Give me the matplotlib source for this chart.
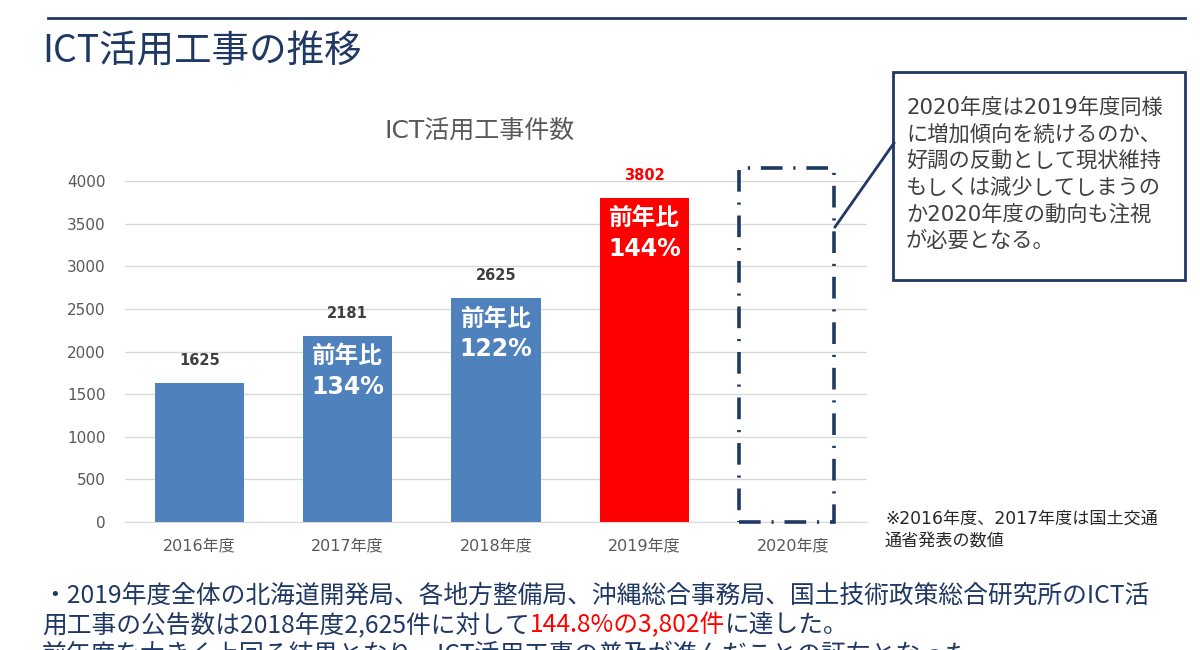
import matplotlib.pyplot as plt
from matplotlib.lines import Line2D
from matplotlib.patches import Rectangle

# wide latin (like Meiryo) + CJK fallback
WIDE = ["DejaVu Sans", "Noto Sans CJK JP"]
NARROW = ["Noto Sans CJK JP", "DejaVu Sans"]
plt.rcParams["font.family"] = WIDE

# data
years = ["2016年度", "2017年度", "2018年度", "2019年度", "2020年度"]
counts = [1625, 2181, 2625, 3802]
ratios = [None, "134%", "122%", "144%"]
outlook_2020 = 4150  # dashed placeholder height
yticks = [0, 500, 1000, 1500, 2000, 2500, 3000, 3500, 4000]

callout = ["2020年度は2019年度同様",
           "に増加傾向を続けるのか、",
           "好調の反動として現状維持",
           "もしくは減少してしまうの",
           "か2020年度の動向も注視",
           "が必要となる。"]

NAVY = "#1F3864"
BLUE = "#4F81BD"
RED = "#FF0000"
GREY = "#595959"

fig = plt.figure(figsize=(12, 6.5), dpi=100)

# header line and page title
fig.add_artist(Line2D([48 / 1200, 1185 / 1200], [1 - 18 / 650] * 2,
                      color=NAVY, lw=2, transform=fig.transFigure))
fig.text(42 / 1200, 1 - 52 / 650, "ICT活用工事の推移", fontsize=27,
         color=NAVY, va="center", ha="left", family=NARROW)

ax = fig.add_axes([125 / 1200, 1 - 522 / 650, 742 / 1200, 341 / 650])
x = list(range(len(years)))
colors = [BLUE, BLUE, BLUE, RED]
bars = ax.bar(x[:4], counts, width=0.6, color=colors, zorder=2)
ax.bar(x[4] - 0.04, outlook_2020, width=0.64, fill=False, edgecolor=NAVY,
       lw=2.6, linestyle=(0, (6, 3, 0.6, 3)), zorder=3, clip_on=False)

for i, (b, v) in enumerate(zip(bars, counts)):
    ax.annotate(str(v), (b.get_x() + b.get_width() / 2, v),
                xytext=(0, 11), textcoords="offset points", ha="center",
                va="bottom", fontsize=10.5, fontweight="bold",
                color=RED if i == 3 else "#404040", annotation_clip=False)
    if ratios[i]:
        ax.annotate("前年比\n" + ratios[i], (b.get_x() + b.get_width() / 2, v),
                    xytext=(0, -6), textcoords="offset points", ha="center",
                    va="top", fontsize=17, fontweight="bold", color="white",
                    linespacing=1.35)

ax.set_xlim(-0.5, 4.5)
ax.set_ylim(0, 4000)
ax.set_yticks(yticks)
ax.set_xticks(x)
ax.set_xticklabels(years)
ax.tick_params(axis="both", length=0, labelsize=11, colors=GREY)
ax.tick_params(axis="x", labelsize=11.5, pad=12)
ax.tick_params(axis="y", pad=14)
ax.grid(axis="y", color="#D9D9D9", lw=1, zorder=0)
for s in ["top", "right", "left"]:
    ax.spines[s].set_visible(False)
ax.spines["bottom"].set_color("#D9D9D9")

fig.text(480 / 1200, 1 - 131 / 650, "ICT活用工事件数", fontsize=18,
         color=GREY, ha="center", va="center")

# callout box
fig.add_artist(Rectangle((893 / 1200, 1 - 280 / 650), 292 / 1200, 208 / 650,
                         fill=False, edgecolor=NAVY, lw=2,
                         transform=fig.transFigure))
fig.add_artist(Line2D([835 / 1200, 894 / 1200], [1 - 227 / 650, 1 - 143 / 650],
                      color=NAVY, lw=2, transform=fig.transFigure))
for k, line in enumerate(callout):
    fig.text(906 / 1200, 1 - (108 + 26.5 * k) / 650, line, fontsize=15.3,
             color="#404040", ha="left", va="center")

fig.text(885 / 1200, 1 - 519 / 650, "※2016年度、2017年度は国土交通",
         fontsize=12.3, color="#262626", va="center")
fig.text(885 / 1200, 1 - 541 / 650, "通省発表の数値",
         fontsize=12.3, color="#262626", va="center")

# body text
body = dict(fontsize=17.8, va="center", family=NARROW)
fig.text(42 / 1200, 1 - 596 / 650,
         "・2019年度全体の北海道開発局、各地方整備局、沖縄総合事務局、国土技術政策総合研究所のICT活",
         color=NAVY, **body)
t1 = fig.text(42 / 1200, 1 - 625 / 650, "用工事の公告数は2018年度2,625件に対して",
              color=NAVY, **body)
t2 = fig.text(0, 0, "144.8%の3,802件", color=RED, **body)
t3 = fig.text(0, 0, "に達した。", color=NAVY, **body)
fig.text(42 / 1200, 1 - 655 / 650,
         "前年度を大きく上回る結果となり、ICT活用工事の普及が進んだことの証左となった。",
         color=NAVY, **body)

fig.canvas.draw()
r = fig.canvas.get_renderer()
bb1 = t1.get_window_extent(r)
t2.set_position((bb1.x1 / fig.bbox.width, 1 - 625 / 650))
bb2 = t2.get_window_extent(r)
t3.set_position((bb2.x1 / fig.bbox.width, 1 - 625 / 650))

fig.savefig("out.png", dpi=100)
